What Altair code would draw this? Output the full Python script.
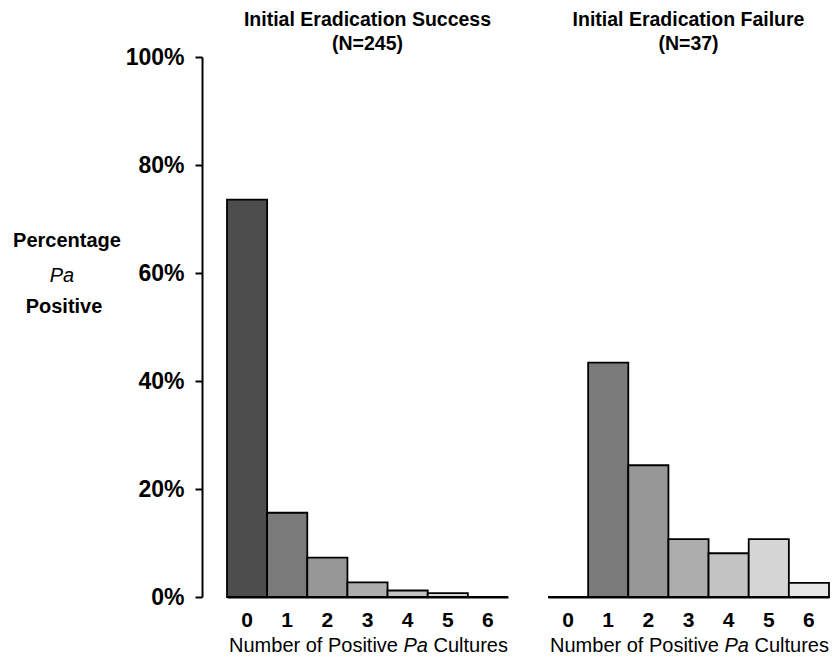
import altair as alt
import pandas as pd

FONT = "Liberation Sans"

cats = ["0", "1", "2", "3", "4", "5", "6"]
success_pct = [73.6, 15.6, 7.3, 2.7, 1.2, 0.7, 0.0]
failure_pct = [0.0, 43.4, 24.4, 10.7, 8.1, 10.7, 2.6]
bar_colors = ["#4d4d4d", "#7a7a7a", "#979797", "#adadad", "#c4c4c4", "#d6d6d6", "#e6e6e6"]
y_ticks = [0, 20, 40, 60, 80, 100]

titles_success = ["Initial Eradication Success", "(N=245)"]
titles_failure = ["Initial Eradication Failure", "(N=37)"]

W = 281
H = 540


def label(s, x, y, size=20, weight="normal", style="normal", align="center"):
    return alt.Chart(pd.DataFrame({"t": [s]})).mark_text(
        font=FONT, fontSize=size, fontWeight=weight, fontStyle=style,
        align=align, baseline="alphabetic", color="black"
    ).encode(x=alt.value(x), y=alt.value(y), text="t:N")


def panel(vals, titles, show_y):
    df = pd.DataFrame({"k": cats, "pct": vals})
    if show_y:
        yaxis = alt.Axis(values=y_ticks, labelExpr="datum.value + '%'", title=None,
                         grid=False, offset=25, tickSize=7, tickWidth=2, domainWidth=2,
                         tickColor="black", domainColor="black", labelFont=FONT,
                         labelFontSize=23, labelFontWeight="bold", labelPadding=11,
                         labelColor="black")
    else:
        yaxis = None
    bars = alt.Chart(df).mark_bar(stroke="black", strokeWidth=1.8).encode(
        x=alt.X("k:N", sort=cats, scale=alt.Scale(paddingInner=0, paddingOuter=0),
                axis=alt.Axis(title=None, labelAngle=0, ticks=False, domainWidth=2,
                              domainColor="black", labelFont=FONT, labelFontSize=21,
                              labelFontWeight="bold", labelPadding=12, labelColor="black")),
        y=alt.Y("pct:Q", scale=alt.Scale(domain=[0, 100]), axis=yaxis),
        color=alt.Color("k:N", scale=alt.Scale(domain=cats, range=bar_colors), legend=None),
    )
    cx = W / 2
    layers = [bars,
              label(titles[0], cx, -31, size=19.5, weight="bold"),
              label(titles[1], cx, -7, size=19.5, weight="bold"),
              label("Number of Positive", cx + 30.5, H + 55, align="right"),
              label("Pa", cx + 36, H + 55, style="italic", align="left"),
              label("Cultures", cx + 66, H + 55, align="left")]
    if show_y:
        layers += [label("Percentage", -160, 190, weight="bold"),
                   label("Pa", -165, 225, style="italic"),
                   label("Positive", -163, 256, weight="bold")]
    return alt.layer(*layers).properties(width=W, height=H)


chart = alt.hconcat(
    panel(success_pct, titles_success, True),
    panel(failure_pct, titles_failure, False),
    spacing=40, bounds="flush",
).properties(
    padding={"left": 5, "top": 2, "right": 0, "bottom": 0}
).configure_view(stroke=None)

chart.save("out.html", embed_options={"renderer": "svg", "actions": False})
